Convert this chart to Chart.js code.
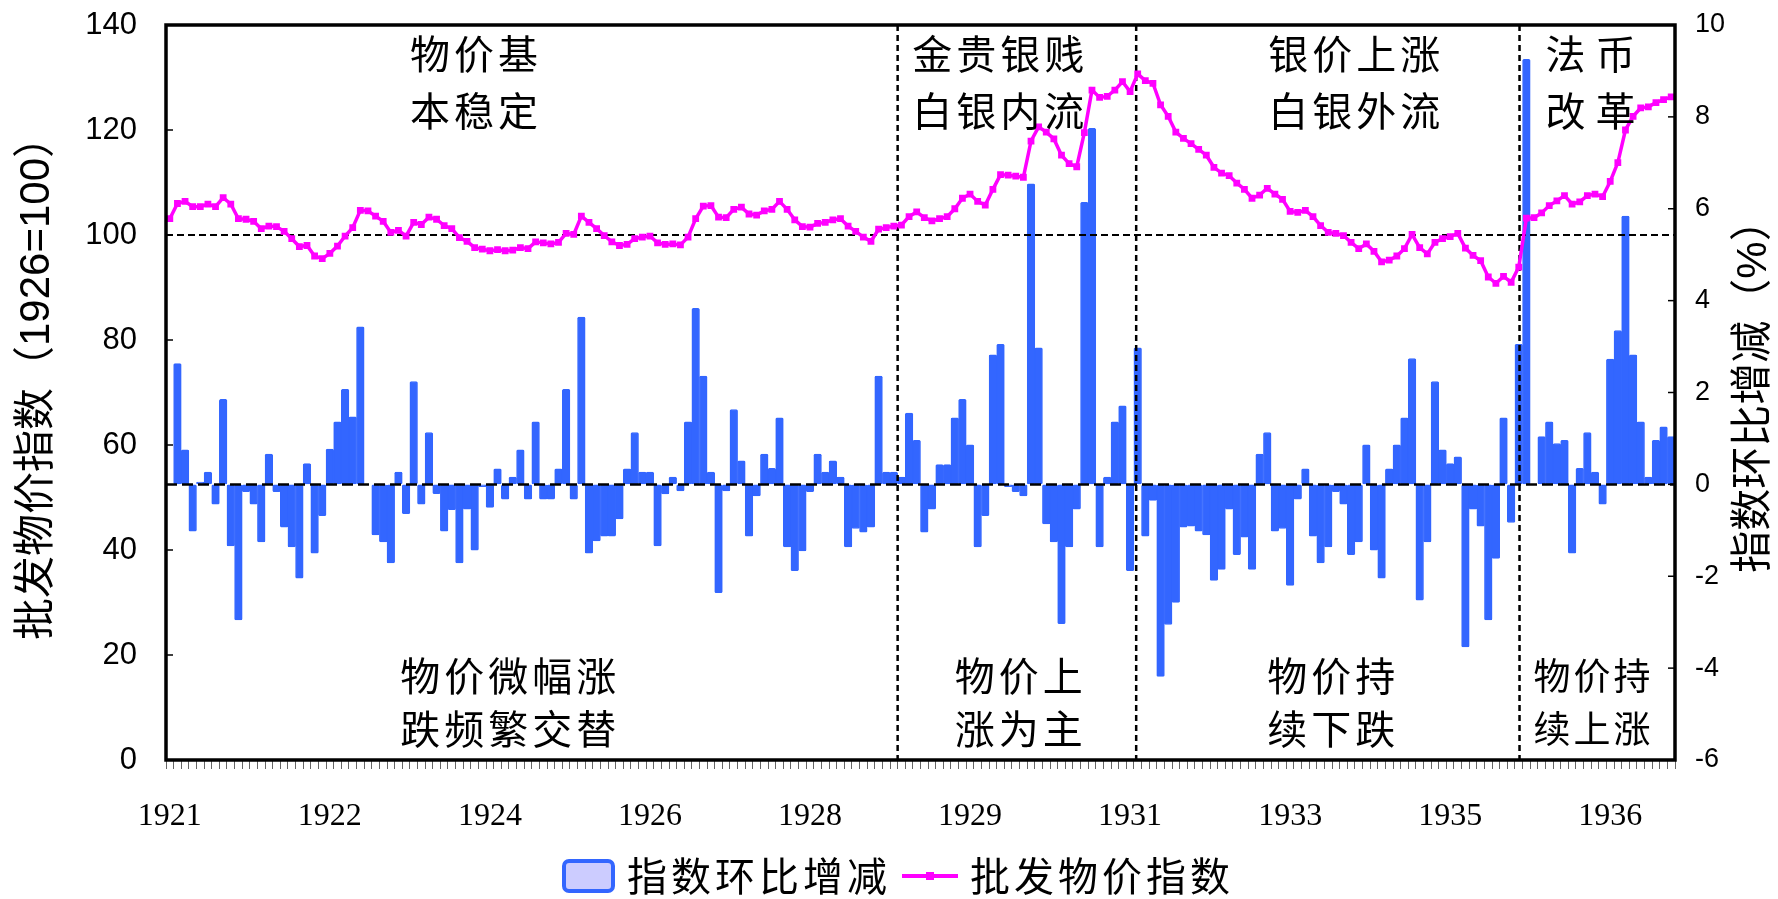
<!DOCTYPE html>
<html>
<head>
<meta charset="utf-8">
<script src="https://cdn.jsdelivr.net/npm/chart.js@4.4.1/dist/chart.umd.min.js"></script>
<style>
  html, body { margin: 0; padding: 0; background: #fff; }
</style>
</head>
<body>
<canvas id="myChart" width="1778" height="899"></canvas>
<script>
// Monate Jan 1921 - Jun 1937 (Kategorien)
const startYear = 1921;
const monthCount = 198;
const months = [];
for (let i = 0; i < monthCount; i++) {
    months.push((startYear + Math.floor(i / 12)) + '-' + String(i % 12 + 1).padStart(2, '0'));
}

// Beschriftung der x-Achse, jede 21. Kategorie
const xTickLabels = ['1921', '1922', '1924', '1926', '1928', '1929', '1931', '1933', '1935', '1936'];
const xTickStep = 21;

// 批发物价指数 (1926=100), linke Achse
const priceIndex = [
    103.1, 106.0, 106.4, 105.4, 105.4, 105.9, 105.4, 107.1, 105.9, 103.1,
    103.0, 102.6, 101.2, 101.7, 101.6, 100.7, 99.3, 97.8, 98.0, 96.0,
    95.5, 96.5, 97.9, 99.8, 101.4, 104.7, 104.6, 103.6, 102.6, 100.5,
    100.9, 99.8, 102.4, 102.0, 103.4, 103.0, 101.8, 101.2, 99.5, 98.8,
    97.6, 97.3, 97.0, 97.2, 97.0, 97.1, 97.6, 97.4, 98.7, 98.5,
    98.3, 98.6, 100.3, 100.1, 103.6, 102.4, 101.2, 99.9, 98.7, 98.0,
    98.2, 99.3, 99.6, 99.8, 98.5, 98.2, 98.3, 98.1, 99.6, 103.1,
    105.5, 105.6, 103.4, 103.3, 104.9, 105.3, 104.0, 103.8, 104.6, 104.9,
    106.4, 104.9, 102.9, 101.6, 101.5, 102.2, 102.4, 102.9, 103.1, 101.7,
    100.7, 99.6, 98.8, 101.1, 101.4, 101.7, 101.9, 103.5, 104.4, 103.3,
    102.7, 103.1, 103.5, 105.0, 107.0, 107.8, 106.4, 105.7, 108.7, 111.5,
    111.4, 111.2, 111.0, 117.9, 120.6, 119.6, 118.3, 115.2, 113.6, 113.0,
    119.5, 127.6, 126.2, 126.4, 127.6, 129.2, 127.3, 130.7, 129.4, 128.9,
    124.8, 122.6, 119.6, 118.4, 117.4, 116.3, 115.2, 112.9, 111.8, 111.3,
    109.9, 108.7, 107.0, 107.6, 108.9, 107.8, 106.8, 104.5, 104.3, 104.7,
    103.5, 101.8, 100.5, 100.3, 99.9, 98.6, 97.4, 98.3, 96.9, 94.9,
    95.2, 96.0, 97.4, 100.1, 97.6, 96.4, 98.6, 99.3, 99.7, 100.3,
    97.5, 96.1, 95.1, 92.0, 90.8, 92.1, 91.0, 93.9, 103.2, 103.3,
    104.2, 105.6, 106.5, 107.5, 105.9, 106.3, 107.5, 107.8, 107.3, 110.2,
    113.8, 120.0, 122.6, 124.2, 124.4, 125.2, 125.8, 126.3
];

// 指数环比增减 (%), rechte Achse
const momChange = [
    null, 2.63, 0.75, -1.02, 0.05, 0.27, -0.43, 1.85, -1.34, -2.95,
    -0.16, -0.43, -1.25, 0.66, -0.16, -0.93, -1.36, -2.04, 0.45, -1.50,
    -0.68, 0.77, 1.36, 2.07, 1.47, 3.43, 0.0, -1.10, -1.25, -1.71,
    0.27, -0.64, 2.24, -0.43, 1.13, -0.20, -1.02, -0.55, -1.71, -0.54,
    -1.43, -0.05, -0.50, 0.34, -0.32, 0.16, 0.75, -0.32, 1.36, -0.32,
    -0.32, 0.34, 2.07, -0.32, 3.64, -1.50, -1.23, -1.13, -1.13, -0.75,
    0.34, 1.13, 0.27, 0.27, -1.34, -0.21, 0.16, -0.14, 1.36, 3.83,
    2.36, 0.27, -2.36, -0.14, 1.63, 0.51, -1.13, -0.25, 0.66, 0.35,
    1.45, -1.36, -1.88, -1.45, -0.16, 0.66, 0.27, 0.51, 0.16, -1.36,
    -0.96, -1.04, -0.93, 2.36, 0.27, 0.27, 0.16, 1.55, 0.96, -1.04,
    -0.54, 0.43, 0.43, 1.45, 1.85, 0.86, -1.36, -0.68, 2.82, 3.05,
    -0.05, -0.16, -0.25, 6.54, 2.97, -0.86, -1.25, -3.03, -1.36, -0.54,
    6.14, 7.75, -1.36, 0.16, 1.36, 1.71, -1.88, 2.97, -1.13, -0.35,
    -4.18, -3.05, -2.57, -0.93, -0.91, -1.02, -1.10, -2.09, -1.85, -0.54,
    -1.53, -1.15, -1.85, 0.66, 1.13, -1.02, -0.96, -2.20, -0.32, 0.34,
    -1.13, -1.71, -1.36, -0.16, -0.43, -1.53, -1.25, 0.86, -1.43, -2.04,
    0.34, 0.86, 1.45, 2.74, -2.52, -1.25, 2.24, 0.75, 0.45, 0.60,
    -3.54, -0.54, -0.91, -2.95, -1.61, 1.45, -0.83, 3.05, 9.25, 0.0,
    1.04, 1.36, 0.89, 0.96, -1.50, 0.35, 1.13, 0.27, -0.43, 2.73,
    3.35, 5.84, 2.82, 1.36, 0.16, 0.96, 1.25, 1.04
];

// Trennlinien der Phasen (in Monaten ab linkem Rand)
const dividers = [96.0, 127.3, 177.6];

// Textfelder: x in Monaten ab linkem Rand, y in Werten der linken Achse
const notes = [
    { lines: ['物价基', '本稳定'], x: 40.4, y: [134.5, 123.6], size: 40, gap: 4 },
    { lines: ['物价微幅涨', '跌频繁交替'], x: 44.9, y: [16.0, 6.0], size: 40, gap: 4 },
    { lines: ['金贵银贱', '白银内流'], x: 109.2, y: [134.5, 123.6], size: 40, gap: 4 },
    { lines: ['物价上', '涨为主'], x: 111.9, y: [16.0, 6.0], size: 40, gap: 4 },
    { lines: ['银价上涨', '白银外流'], x: 155.9, y: [134.5, 123.6], size: 40, gap: 4 },
    { lines: ['物价持', '续下跌'], x: 152.9, y: [16.0, 6.0], size: 40, gap: 4 },
    { lines: ['法币', '改革'], x: 186.9, y: [134.5, 123.6], size: 40, gap: 10 },
    { lines: ['物价持', '续上涨'], x: 187.1, y: [16.0, 6.0], size: 37, gap: 3 }
];

const cjkFont = "'Noto Sans CJK SC'";
const barColor = '#3366FF';
const lineColor = '#FF00FF';

// Zusatzzeichnungen: Hilfslinien, Rahmen, Texte, Legende
const extras = {
    id: 'extras',
    afterDatasetDraw(chart, args) {
        if (args.index !== 1) return; // erst nach den Balken
        const { ctx, chartArea: a, scales } = chart;
        const w = (a.right - a.left) / months.length;
        ctx.save();
        ctx.strokeStyle = '#000';

        // 100er Linie (linke Achse)
        ctx.lineWidth = 2;
        ctx.setLineDash([7, 4]);
        let y = scales.y.getPixelForValue(100);
        ctx.beginPath(); ctx.moveTo(a.left, y); ctx.lineTo(a.right, y); ctx.stroke();

        // Nulllinie (rechte Achse)
        ctx.lineWidth = 2.5;
        ctx.setLineDash([11, 5]);
        y = scales.y1.getPixelForValue(0);
        ctx.beginPath(); ctx.moveTo(a.left, y); ctx.lineTo(a.right, y); ctx.stroke();

        // senkrechte Trennlinien
        ctx.lineWidth = 2.5;
        ctx.setLineDash([6, 4]);
        dividers.forEach(d => {
            const x = a.left + d * w;
            ctx.beginPath(); ctx.moveTo(x, a.top); ctx.lineTo(x, a.bottom); ctx.stroke();
        });
        ctx.restore();
    },
    afterDraw(chart) {
        const { ctx, chartArea: a, scales } = chart;
        const w = (a.right - a.left) / months.length;
        ctx.save();

        // kleine Striche nach innen
        ctx.strokeStyle = '#000';
        ctx.lineWidth = 1.5;
        scales.y.ticks.forEach(t => {
            const y = scales.y.getPixelForValue(t.value);
            ctx.beginPath(); ctx.moveTo(a.left, y); ctx.lineTo(a.left + 7, y); ctx.stroke();
        });
        scales.y1.ticks.forEach(t => {
            const y = scales.y1.getPixelForValue(t.value);
            ctx.beginPath(); ctx.moveTo(a.right, y); ctx.lineTo(a.right - 7, y); ctx.stroke();
        });

        // Rahmen
        ctx.lineWidth = 3.5;
        ctx.strokeRect(a.left, a.top, a.right - a.left, a.bottom - a.top);

        // Texte im Diagramm
        ctx.fillStyle = '#000';
        ctx.textAlign = 'center';
        ctx.textBaseline = 'middle';
        notes.forEach(n => {
            ctx.font = n.size + 'px ' + cjkFont;
            ctx.letterSpacing = n.gap + 'px';
            const x = a.left + n.x * w;
            n.lines.forEach((txt, k) => {
                ctx.fillText(txt, x + n.gap / 2, scales.y.getPixelForValue(n.y[k]));
            });
        });
        ctx.letterSpacing = '0px';

        // Achsentitel (beide von unten nach oben)
        ctx.font = "42px 'Liberation Sans', " + cjkFont;
        ctx.save();
        ctx.translate(37, 378);
        ctx.rotate(-Math.PI / 2);
        ctx.fillText('批发物价指数（1926=100）', 0, 0);
        ctx.restore();
        ctx.save();
        ctx.translate(1754, 386);
        ctx.rotate(-Math.PI / 2);
        ctx.fillText('指数环比增减（%）', 0, 0);
        ctx.restore();

        // Legende
        const ly = 876;
        ctx.lineWidth = 4;
        ctx.strokeStyle = barColor;
        ctx.fillStyle = '#CCCCFF';
        ctx.beginPath();
        ctx.roundRect(564, ly - 15, 49, 30, 5);
        ctx.fill(); ctx.stroke();
        ctx.fillStyle = '#000';
        ctx.textAlign = 'left';
        ctx.font = '40px ' + cjkFont;
        ctx.letterSpacing = '4px';
        ctx.fillText(chart.data.datasets[1].label, 627, ly);
        ctx.strokeStyle = lineColor;
        ctx.beginPath(); ctx.moveTo(902, ly); ctx.lineTo(958, ly); ctx.stroke();
        ctx.fillStyle = lineColor;
        ctx.fillRect(926, ly - 4, 8, 8);
        ctx.fillStyle = '#000';
        ctx.fillText(chart.data.datasets[0].label, 970, ly);
        ctx.restore();
    }
};

const ctx = document.getElementById('myChart').getContext('2d');

// unsichtbare Tick-Striche als Abstand zu den Beschriftungen
const hiddenTicks = len => ({ display: true, drawOnChartArea: false, drawTicks: true, tickLength: len, color: 'rgba(0,0,0,0)' });

let chart = new Chart(ctx, {
    type: 'bar',
    data: {
        labels: months,
        datasets: [
            {
                type: 'line',
                label: '批发物价指数',
                data: priceIndex,
                yAxisID: 'y',
                borderColor: lineColor,
                backgroundColor: lineColor,
                borderWidth: 3.5,
                pointStyle: 'rect',
                pointRadius: 4.8,
                pointBorderWidth: 0,
                tension: 0,
                order: 0
            },
            {
                type: 'bar',
                label: '指数环比增减',
                data: momChange,
                yAxisID: 'y1',
                backgroundColor: barColor,
                borderColor: barColor,
                borderWidth: 1,
                borderRadius: 1.5,
                borderSkipped: false,
                barPercentage: 1,
                categoryPercentage: 1,
                order: 1
            }
        ]
    },
    options: {
        responsive: false,
        animation: false,
        layout: { padding: { top: 25, left: 0, right: 0, bottom: 0 } },
        plugins: {
            legend: { display: false },
            tooltip: { enabled: false }
        },
        scales: {
            x: {
                offset: true,
                grid: { display: true, drawOnChartArea: false, drawTicks: true, tickLength: 9, color: '#666', lineWidth: 1, offset: true },
                border: { display: false },
                ticks: {
                    autoSkip: false,
                    maxRotation: 0,
                    minRotation: 0,
                    padding: 28,
                    color: '#000',
                    font: { family: 'Liberation Serif', size: 32 },
                    callback: (val, i) => (i % xTickStep === 0 ? xTickLabels[i / xTickStep] : '')
                },
                afterFit: s => { s.height = 139; }
            },
            y: {
                position: 'left',
                min: 0,
                max: 140,
                grid: hiddenTicks(29),
                border: { display: false },
                ticks: { stepSize: 20, padding: 0, color: '#000', font: { family: 'Liberation Sans', size: 31 } },
                afterFit: s => { s.width = 166; }
            },
            y1: {
                position: 'right',
                min: -6,
                max: 10,
                grid: hiddenTicks(20),
                border: { display: false },
                ticks: { stepSize: 2, padding: 0, color: '#000', font: { family: 'Liberation Sans', size: 27 } },
                afterFit: s => { s.width = 103; }
            }
        }
    },
    plugins: [extras]
});
</script>
</body>
</html>
